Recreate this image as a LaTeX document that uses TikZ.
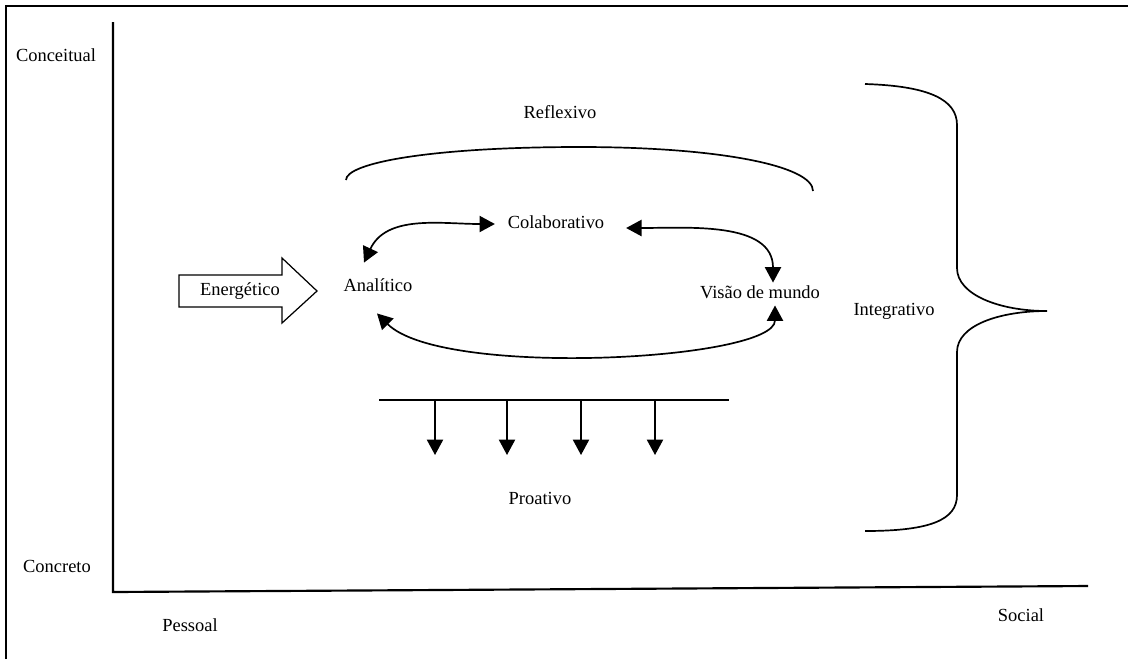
\documentclass[tikz,border=0pt]{standalone}
\usepackage{fontspec}
\setmainfont{Liberation Serif}
\usetikzlibrary{arrows.meta,calc,positioning}
\def\figfont{\fontsize{12pt}{14pt}\selectfont}
\def\figinnersep{3pt}
\def\figtiplength{10pt}
\def\figtipwidth{10.5pt}
\def\figlinewidth{1.1pt}

\begin{document}
\begin{tikzpicture}[
  x=0.65pt,y=-0.65pt,
  word/.style={font=\figfont,inner sep=\figinnersep},
  conn/.style={line width=\figlinewidth},
  tipend/.style={conn,-{Triangle[length=\figtiplength,width=\figtipwidth]}},
  tipboth/.style={conn,{Triangle[length=\figtiplength,width=\figtipwidth]}-{Triangle[length=\figtiplength,width=\figtipwidth]}},
  axis/.style={line width=1.4pt},
]
\useasboundingbox (0,0) rectangle (1128,659);

%%%%%%%%%%%%%%%
% Frame and Axes
%%%%%%%%%%%%%%%
\draw[line width=0.7pt] (6,659) -- (6,6) -- (1128,6);
\coordinate (top) at (113,22);
\coordinate (origin) at (113,592);
\coordinate (right) at (1088,586);
\draw[axis] (top) -- (origin) -- (right);

\node (conc) [word] at (56,55) {Conceitual};
\node (concr) [word] at (57,566) {Concreto};
\node (pess) [word] at (190,625) {Pessoal};
\node (soc) [word] at (1021,615) {Social};

%%%%%%%%%%%%%%%
% Center Part
%%%%%%%%%%%%%%%
\node (anal) [word] at (378,285) {Analítico};
\node (colab) [word] at (556,222) {Colaborativo};
\node (visao) [word] at (760,292) {Visão de mundo};

\draw[tipboth] ($(anal.north)+(-14,-11)$) to[out=65,in=180] ($(colab.west)+(-8,2)$);
\draw[tipboth] ($(colab.east)+(17,6)$) to[out=0,in=90] ($(visao.north)+(13,2)$);
\draw[tipboth] ($(anal.south)+(-1,17)$) .. controls +(65,65) and +(0,55) .. ($(visao.south)+(15,2)$);

%%%%%%%%%%%%%%%
% Energetic Arrow
\node (energ) [word] at (240,291) {Energético};
\draw[line width=0.8pt] (179,275) -- (282,275) -- (282,258) -- (317,291)
  -- (282,323) -- (282,307) -- (179,307) -- cycle;

%%%%%%%%%%%%%%%
% Reflexive Arc
\node (refl) [word] at (560,112) {Reflexivo};
\draw[conn] (346,180) .. controls (346,163) and (430,147) .. (580,147)
  .. controls (720,147) and (813,166) .. (813,191);

%%%%%%%%%%%%%%%
% Proactive Bar
\node (proat) [word] at (540,498) {Proativo};
\coordinate (barl) at (379,400);
\coordinate (barr) at (729,400);
\draw[conn] (barl) -- (barr);
\foreach \x [count=\i] in {435,507,581,655} {
  \coordinate (bar\i) at (\x,400);
  \coordinate (tip\i) at (\x,455);
  \draw[tipend] (bar\i) -- (tip\i);
}

%%%%%%%%%%%%%%%
% Integrative Brace
%%%%%%%%%%%%%%%
\node (integ) [word] at (894,311) {Integrativo};
\draw[conn] (865,84) .. controls (930,86) and (957,100) .. (957,125) -- (957,268)
  .. controls (957,295) and (1000,311) .. (1047,311)
  .. controls (1000,311) and (957,325) .. (957,352) -- (957,495)
  .. controls (957,520) and (930,531) .. (865,531);

\end{tikzpicture}
\end{document}
